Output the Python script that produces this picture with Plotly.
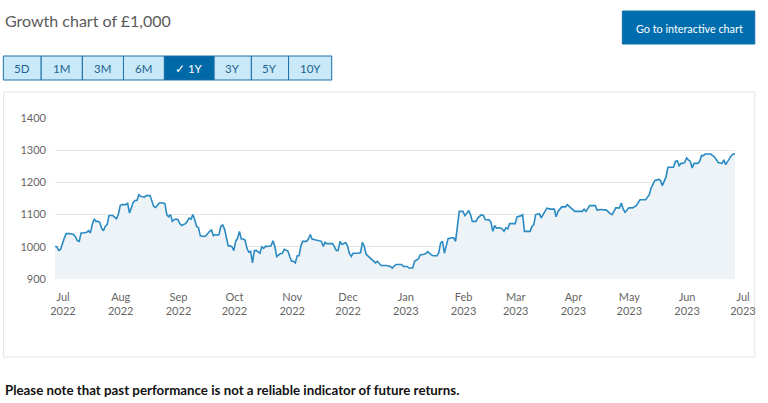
import plotly.graph_objects as go

dates = [
    "2022-07-01","2022-07-02","2022-07-03","2022-07-04","2022-07-06","2022-07-07","2022-07-09","2022-07-11",
    "2022-07-12","2022-07-13","2022-07-14","2022-07-15","2022-07-16","2022-07-18","2022-07-19","2022-07-20",
    "2022-07-21","2022-07-22","2022-07-23","2022-07-24","2022-07-25","2022-07-26","2022-07-27","2022-07-28",
    "2022-07-29","2022-07-30","2022-08-01","2022-08-02","2022-08-03","2022-08-04","2022-08-05","2022-08-06",
    "2022-08-08","2022-08-09","2022-08-10","2022-08-11","2022-08-12","2022-08-13","2022-08-14","2022-08-15",
    "2022-08-16","2022-08-18","2022-08-19","2022-08-21","2022-08-22","2022-08-23","2022-08-24","2022-08-25",
    "2022-08-26","2022-08-28","2022-08-29","2022-08-30","2022-08-31","2022-09-01","2022-09-02","2022-09-03",
    "2022-09-04","2022-09-05","2022-09-06","2022-09-07","2022-09-09","2022-09-10","2022-09-11","2022-09-12",
    "2022-09-13","2022-09-14","2022-09-15","2022-09-16","2022-09-17","2022-09-19","2022-09-20","2022-09-22",
    "2022-09-23","2022-09-24","2022-09-25","2022-09-26","2022-09-27","2022-09-28","2022-09-29","2022-09-30",
    "2022-10-01","2022-10-02","2022-10-03","2022-10-04","2022-10-05","2022-10-06","2022-10-07","2022-10-08",
    "2022-10-09","2022-10-10","2022-10-11","2022-10-12","2022-10-13","2022-10-14","2022-10-15","2022-10-16",
    "2022-10-17","2022-10-19","2022-10-20","2022-10-21","2022-10-22","2022-10-23","2022-10-25","2022-10-26",
    "2022-10-27","2022-10-28","2022-10-30","2022-10-31","2022-11-01","2022-11-03","2022-11-04","2022-11-05",
    "2022-11-06","2022-11-07","2022-11-08","2022-11-09","2022-11-10","2022-11-11","2022-11-13","2022-11-14",
    "2022-11-15","2022-11-16","2022-11-18","2022-11-20","2022-11-21","2022-11-22","2022-11-23","2022-11-24",
    "2022-11-27","2022-11-28","2022-11-29","2022-11-30","2022-12-01","2022-12-02","2022-12-03","2022-12-04",
    "2022-12-05","2022-12-06","2022-12-07","2022-12-08","2022-12-11","2022-12-12","2022-12-13","2022-12-14",
    "2022-12-15","2022-12-16","2022-12-18","2022-12-20","2022-12-21","2022-12-22","2022-12-23","2022-12-26",
    "2022-12-28","2022-12-29","2022-12-31","2023-01-03","2023-01-04","2023-01-06","2023-01-07","2023-01-09",
    "2023-01-10","2023-01-12","2023-01-13","2023-01-15","2023-01-16","2023-01-17","2023-01-18","2023-01-19",
    "2023-01-20","2023-01-22","2023-01-23","2023-01-24","2023-01-25","2023-01-26","2023-01-27","2023-01-28",
    "2023-01-30","2023-01-31","2023-02-01","2023-02-02","2023-02-03","2023-02-05","2023-02-06","2023-02-07",
    "2023-02-08","2023-02-09","2023-02-10","2023-02-12","2023-02-13","2023-02-14","2023-02-15","2023-02-16",
    "2023-02-17","2023-02-19","2023-02-20","2023-02-21","2023-02-22","2023-02-23","2023-02-25","2023-02-26",
    "2023-02-27","2023-02-28","2023-03-01","2023-03-02","2023-03-05","2023-03-06","2023-03-08","2023-03-09",
    "2023-03-10","2023-03-13","2023-03-14","2023-03-15","2023-03-16","2023-03-18","2023-03-19","2023-03-20",
    "2023-03-22","2023-03-24","2023-03-26","2023-03-27","2023-03-28","2023-03-30","2023-04-01","2023-04-02",
    "2023-04-04","2023-04-06","2023-04-10","2023-04-11","2023-04-12","2023-04-14","2023-04-17","2023-04-18",
    "2023-04-20","2023-04-23","2023-04-25","2023-04-26","2023-04-27","2023-04-28","2023-04-30","2023-05-01",
    "2023-05-02","2023-05-03","2023-05-05","2023-05-07","2023-05-09","2023-05-11","2023-05-14","2023-05-15",
    "2023-05-16","2023-05-17","2023-05-19","2023-05-20","2023-05-21","2023-05-22","2023-05-23","2023-05-25",
    "2023-05-26","2023-05-29","2023-05-30","2023-05-31","2023-06-01","2023-06-02","2023-06-03","2023-06-04",
    "2023-06-05","2023-06-06","2023-06-07","2023-06-08","2023-06-09","2023-06-11","2023-06-12","2023-06-13",
    "2023-06-14","2023-06-15","2023-06-18","2023-06-20","2023-06-21","2023-06-22","2023-06-24","2023-06-25",
    "2023-06-26","2023-06-28","2023-06-29","2023-06-30","2023-07-01",
]

values = [
    1001,1000,989,992,1027,1041,1041,1038,
    1031,1019,1017,1043,1043,1045,1050,1043,
    1069,1086,1079,1079,1076,1058,1050,1064,
    1069,1097,1097,1093,1087,1100,1128,1131,
    1131,1135,1105,1121,1138,1144,1144,1162,
    1157,1154,1159,1159,1145,1125,1122,1128,
    1136,1136,1134,1100,1093,1100,1079,1084,
    1086,1084,1072,1066,1072,1079,1089,1086,
    1100,1084,1063,1060,1034,1032,1034,1048,
    1052,1034,1038,1036,1038,1063,1068,1055,
    1024,1003,1003,1000,988,1017,1027,1048,
    1024,1024,1021,996,983,986,950,988,
    989,980,1000,995,1002,1001,1003,1019,
    1001,970,979,979,992,987,970,955,
    955,950,972,972,1003,1017,1017,1024,
    1038,1024,1021,1019,1017,1001,1014,1010,
    1010,1000,989,989,1017,1007,1010,1013,
    1003,980,970,980,980,982,1014,1001,
    977,972,962,950,955,950,942,942,
    939,934,945,945,939,939,934,934,
    955,962,975,977,979,985,979,975,
    972,972,982,1012,1017,980,1003,1025,
    1028,1028,1017,1066,1110,1110,1097,1103,
    1113,1100,1079,1079,1090,1095,1100,1097,
    1084,1084,1076,1048,1066,1058,1059,1056,
    1048,1059,1056,1072,1072,1093,1096,1100,
    1048,1048,1063,1069,1100,1103,1090,1100,
    1120,1117,1117,1093,1110,1124,1124,1131,
    1121,1110,1110,1117,1110,1128,1128,1114,
    1116,1114,1103,1100,1110,1121,1121,1136,
    1117,1107,1121,1121,1128,1146,1146,1155,
    1162,1183,1206,1207,1210,1206,1190,1217,
    1247,1247,1265,1267,1252,1259,1259,1262,
    1276,1270,1265,1245,1259,1259,1265,1283,
    1283,1288,1288,1279,1270,1262,1259,1270,
    1255,1276,1283,1288,1288,
]

tick_dates = ["2022-07-01","2022-08-01","2022-09-01","2022-10-01","2022-11-01","2022-12-01",
              "2023-01-01","2023-02-01","2023-03-01","2023-04-01","2023-05-01","2023-06-01","2023-07-01"]
tick_labels = ["Jul<br>2022","Aug<br>2022","Sep<br>2022","Oct<br>2022","Nov<br>2022","Dec<br>2022",
               "Jan<br>2023","Feb<br>2023","Mar<br>2023","Apr<br>2023","May<br>2023","Jun<br>2023","Jul<br>2023"]
y_ticks = [900, 1000, 1100, 1200, 1300, 1400]

period_buttons = ["5D", "1M", "3M", "6M", "✓ 1Y", "3Y", "5Y", "10Y"]
active_button = "✓ 1Y"
title_text = "Growth chart of £1,000"
cta_text = "Go to interactive chart"
footer_text = "Please note that past performance is not a reliable indicator of future returns."

# ---- layout geometry (pixels) ----
W, H = 768, 403
L, R, T, B = 55, 25, 118, 124
PW = W - L - R
PH = H - T - B

def px(x):
    return (x - L) / PW

def py(y):
    return (H - B - y) / PH

FONT = "Lato, 'Open Sans', sans-serif"

fig = go.Figure()
fig.add_trace(go.Scatter(
    x=dates, y=values, mode="lines",
    line=dict(color="#2a8ac2", width=1.6),
    fill="tozeroy", fillcolor="#eef3f8",
    hoverinfo="skip", showlegend=False,
))

shapes = []
annotations = []

# container box
shapes.append(dict(type="rect", xref="paper", yref="paper",
                   x0=px(3), x1=px(763), y0=py(357), y1=py(92),
                   line=dict(color="#e4e4e4", width=1), fillcolor="rgba(0,0,0,0)", layer="below"))

# period buttons
edges = [2.7, 41, 82.7, 124.3, 165.7, 216, 253.7, 291.3, 335]
for i, lab in enumerate(period_buttons):
    active = lab == active_button
    shapes.append(dict(type="rect", xref="paper", yref="paper",
                       x0=px(edges[i]), x1=px(edges[i + 1]), y0=py(80), y1=py(56),
                       line=dict(color="#1c6fa6", width=1),
                       fillcolor="#0069a8" if active else "#c9e9f8"))
    annotations.append(dict(xref="paper", yref="paper",
                            x=px((edges[i] + edges[i + 1]) / 2), y=py(68.5),
                            text=lab, showarrow=False, xanchor="center", yanchor="middle",
                            font=dict(family=FONT, size=11.5, color="#ffffff" if active else "#23618f")))

# CTA button
shapes.append(dict(type="rect", xref="paper", yref="paper",
                   x0=px(629), x1=px(763), y0=py(44), y1=py(11),
                   line=dict(color="#0a6eab", width=1), fillcolor="#006eae"))
annotations.append(dict(xref="paper", yref="paper", x=px(697), y=py(28),
                        text=cta_text, showarrow=False, xanchor="center", yanchor="middle",
                        font=dict(family=FONT, size=10.8, color="#ffffff")))

# title
annotations.append(dict(xref="paper", yref="paper", x=px(2), y=py(20),
                        text=title_text, showarrow=False, xanchor="left", yanchor="middle",
                        font=dict(family=FONT, size=16, color="#5a5a5a")))

# footer
annotations.append(dict(xref="paper", yref="paper", x=px(2), y=py(390),
                        text="<b>" + footer_text + "</b>", showarrow=False, xanchor="left", yanchor="middle",
                        font=dict(family=FONT, size=13.3, color="#111111")))

fig.update_layout(
    width=W, height=H,
    margin=dict(l=L, r=R, t=T, b=B),
    paper_bgcolor="#ffffff", plot_bgcolor="#ffffff",
    shapes=shapes, annotations=annotations,
    showlegend=False,
    xaxis=dict(type="date", range=["2022-07-01", "2023-07-01"],
               tickmode="array", tickvals=tick_dates, ticktext=tick_labels,
               showgrid=False, zeroline=False, showline=False, ticks="",
               ticklabelshift=8, ticklabelstandoff=10,
               tickfont=dict(family=FONT, size=11, color="#666666")),
    yaxis=dict(range=[900, 1400], tickmode="array", tickvals=y_ticks,
               showgrid=True, gridcolor="#e6e6e6", gridwidth=1,
               zeroline=False, showline=False, ticks="",
               ticklabelstandoff=8,
               tickfont=dict(family=FONT, size=11, color="#666666")),
)

fig.write_html("out.html")
